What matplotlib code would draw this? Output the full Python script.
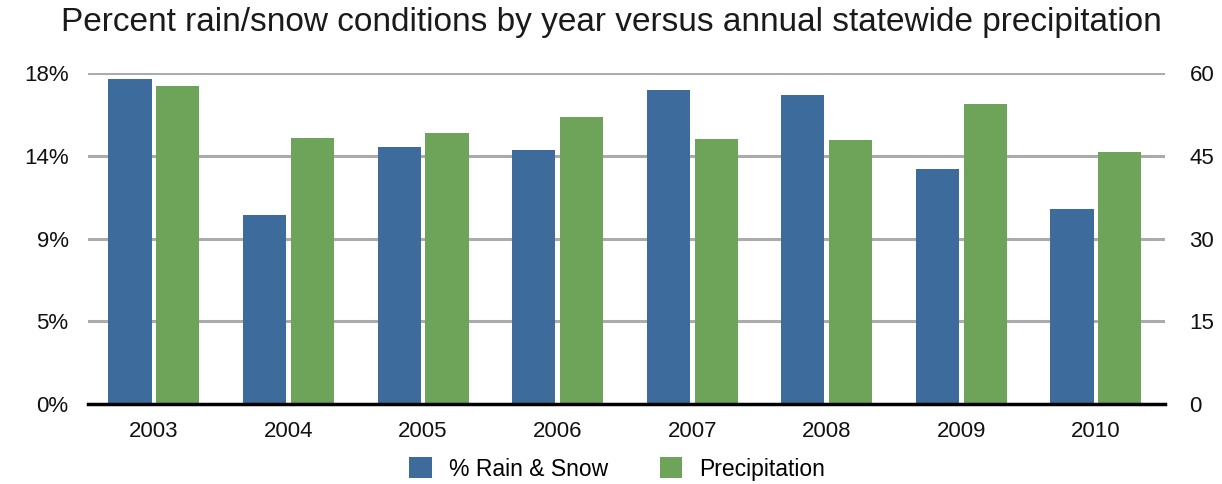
import matplotlib
matplotlib.use("Agg")
import matplotlib.pyplot as plt
import numpy as np

years = ["2003", "2004", "2005", "2006", "2007", "2008", "2009", "2010"]
rain_snow_pct = [17.7, 10.3, 14.0, 13.8, 17.1, 16.8, 12.8, 10.6]
precipitation = [57.7, 48.2, 49.1, 52.1, 48.1, 47.9, 54.4, 45.7]

left_ticks = [0, 4.5, 9, 13.5, 18]
left_tick_labels = ["0%", "5%", "9%", "14%", "18%"]
right_ticks = [0, 15, 30, 45, 60]
right_tick_labels = ["0", "15", "30", "45", "60"]

BLUE = "#3D6B9C"
GREEN = "#6EA35A"
GRID = "#ABABAB"

plt.rcParams["font.family"] = ["Liberation Sans", "DejaVu Sans"]

fig = plt.figure(figsize=(12.22, 4.84), dpi=100)
ax = fig.add_axes([0.072, 0.165, 0.881, 0.684])
ax2 = ax.twinx()

x = np.arange(len(years))
w = 0.32
off = 0.178

# Precipitation axis sits underneath; gridlines live there so both bar sets cover them
ax.set_zorder(ax2.get_zorder() + 1)
ax.patch.set_visible(False)

ax.bar(x - off, rain_snow_pct, width=w, color=BLUE, label="% Rain & Snow", zorder=3)
ax2.bar(x + off, precipitation, width=w, color=GREEN, label="Precipitation", zorder=3)

ax.set_xlim(-0.49, 7.51)
ax.set_ylim(0, 18)
ax2.set_ylim(0, 60)

ax.set_yticks(left_ticks)
ax.set_yticklabels(left_tick_labels)
ax2.set_yticks(right_ticks)
ax2.set_yticklabels(right_tick_labels)
ax.set_xticks(x)
ax.set_xticklabels(years)

for t in right_ticks[1:]:
    ax2.axhline(t, color=GRID, lw=2.2, zorder=1)

for a in (ax, ax2):
    for s in ("top", "left", "right", "bottom"):
        a.spines[s].set_visible(False)
    a.tick_params(length=0, labelsize=16, colors="#111111")
ax.spines["bottom"].set_visible(True)
ax.spines["bottom"].set_linewidth(2.5)
ax.spines["bottom"].set_color("black")
ax.spines["bottom"].set_zorder(5)
ax.tick_params(axis="y", pad=14)
ax2.tick_params(axis="y", pad=18)
ax.tick_params(axis="x", pad=12)

fig.suptitle("Percent rain/snow conditions by year versus annual statewide precipitation",
             y=0.985, fontsize=24, color="#1a1a1a")

h1, l1 = ax.get_legend_handles_labels()
h2, l2 = ax2.get_legend_handles_labels()
fig.legend(h1 + h2, l1 + l2, loc="center", bbox_to_anchor=(0.505, 0.031),
           ncol=2, frameon=False, fontsize=16.5, handlelength=1.0, handleheight=1.0,
           columnspacing=2.25, handletextpad=0.75)

fig.savefig("out.png", dpi=100)
